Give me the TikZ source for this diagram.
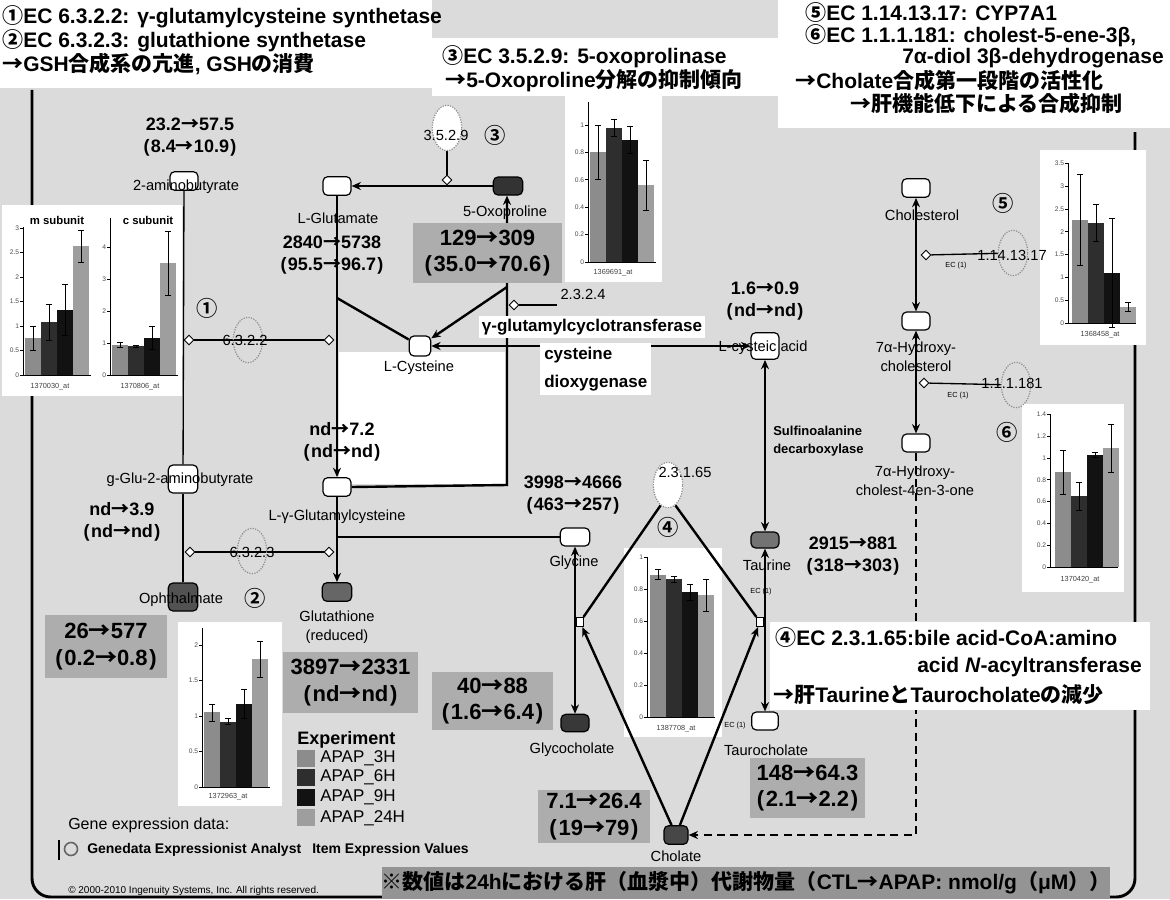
\documentclass[tikz,border=0pt]{standalone}
\usepackage{fontspec}
\setmainfont{Liberation Sans}
\newfontfamily\jp{Noto Sans CJK JP Bold}
\usetikzlibrary{arrows.meta,shapes.geometric}
\pgfdeclarelayer{back}
\pgfdeclarelayer{mid}
\pgfsetlayers{back,mid,main}
\definecolor{bgc}{gray}{0.86}
\definecolor{boxc}{gray}{0.68}
\definecolor{cA}{gray}{0.55}
\definecolor{cB}{gray}{0.18}
\definecolor{cC}{gray}{0.07}
\definecolor{cD}{gray}{0.62}
\newcommand{\ar}{{\jp →}}
\newcommand{\lp}{(\hspace{0.08em}}
\newcommand{\rp}{\hspace{0.08em})}
\tikzset{
 wn/.style={draw, line width=0.9pt, rounded corners=3.5pt, fill=white, minimum width=21pt, minimum height=14pt, inner sep=0pt},
 dn/.style={wn, fill=#1},
 lbl/.style={font=\fontsize{11}{14}\selectfont, inner sep=0pt, align=center},
 num/.style={font=\bfseries\fontsize{13.5}{16}\selectfont, inner sep=0pt, align=center},
 vb/.style={fill=boxc, inner sep=0pt, align=center, font=\bfseries\fontsize{16.5}{20}\selectfont},
 hdr/.style={font=\bfseries\fontsize{15.75}{17}\selectfont, inner sep=0pt, anchor=west},
 cn/.style={font=\jp\fontsize{16}{16}\selectfont, inner sep=0pt},
 enz/.style={ellipse, draw=black!45, densely dotted, line width=0.9pt, minimum width=22pt, minimum height=34pt, inner sep=0pt},
 dia/.style={diamond, draw, fill=white, line width=0.7pt, minimum size=7.5pt, inner sep=0pt},
 thk/.style={line width=1.8pt},
 thn/.style={line width=1pt},
 ah/.style={-{Stealth[length=7pt,width=6pt]}},
 bh/.style={{Stealth[length=7pt,width=6pt]}-{Stealth[length=7pt,width=6pt]}},
 tl/.style={font=\fontsize{5}{5}\selectfont, inner sep=0.5pt, text=black!70},
 ctitle/.style={font=\bfseries\fontsize{8.5}{9}\selectfont, inner sep=0pt},
 xl/.style={font=\fontsize{5.5}{6}\selectfont, inner sep=0pt, text=black!75},
 ec/.style={font=\fontsize{5.5}{6}\selectfont, inner sep=0pt},
 rxn/.style={draw, fill=white, line width=0.6pt, minimum width=5pt, minimum height=7pt, inner sep=0pt},
}
\newcommand{\caxis}[5]{%
 \draw[line width=0.7pt] (#1,#3) -- (#1,#2) -- ({#1+68},#2);
 \foreach \tv in {#5} {
   \draw[line width=0.5pt] ({#1-3},{#2-#4*\tv}) -- (#1,{#2-#4*\tv});
   \node[tl, anchor=east] at ({#1-3},{#2-#4*\tv}) {\tv};
 }}
\newcommand{\cbar}[6]{%
 \fill[#6] (#1,#2) rectangle ({#1+16},{#2-#3*#4});
 \draw[line width=0.6pt] ({#1+8},{#2-#3*(#4-#5)}) -- ({#1+8},{#2-#3*(#4+#5)})
   ({#1+5},{#2-#3*(#4+#5)}) -- ({#1+11},{#2-#3*(#4+#5)})
   ({#1+5},{#2-#3*(#4-#5)}) -- ({#1+11},{#2-#3*(#4-#5)});}
\begin{document}
\begin{tikzpicture}[x=0.75pt,y=-0.75pt]
\useasboundingbox (0,0) rectangle (1170,899);
\begin{pgfonlayer}{back}
\fill[bgc] (0,0) rectangle (1170,899);
\fill[white] (0,0) rectangle (432,88);
\fill[white] (432,38) rectangle (778,96);
\fill[white] (778,0) rectangle (1170,128);
\fill[white] (339,352) rectangle (505,484);
\draw[line width=2.2pt, rounded corners=14pt] (32,90) -- (32,897) -- (1135,897) -- (1135,132);
% chart backgrounds
\fill[white] (2,205) rectangle (96,396);
\fill[white] (96,205) rectangle (182,396);
\fill[white] (565,96) rectangle (662,282);
\fill[white] (178,622) rectangle (282,806);
\fill[white] (624,548) rectangle (722,737);
\fill[white] (1040,150) rectangle (1146,345);
\fill[white] (1022,404) rectangle (1124,592);
% chart m subunit
\caxis{23}{375}{227}{49}{0,0.5,1,1.5,2,2.5,3}
\cbar{25}{375}{49}{0.75}{0.25}{cA}
\cbar{41}{375}{49}{1.08}{0.37}{cB}
\cbar{57}{375}{49}{1.33}{0.52}{cC}
\cbar{73}{375}{49}{2.63}{0.33}{cD}
\node[ctitle] at (57,220) {m subunit};
\node[xl] at (50,387) {1370030\_at};
% chart c subunit
\caxis{110}{375}{218}{32}{0,1,2,3,4}
\cbar{112}{375}{32}{0.94}{0.08}{cA}
\cbar{128}{375}{32}{0.90}{0.04}{cB}
\cbar{144}{375}{32}{1.16}{0.35}{cC}
\cbar{160}{375}{32}{3.50}{1.00}{cD}
\node[ctitle] at (148,220) {c subunit};
\node[xl] at (140,387) {1370806\_at};
% chart 3
\caxis{588}{262}{102}{137}{0,0.2,0.4,0.6,0.8,1}
\cbar{590}{262}{137}{0.80}{0.20}{cA}
\cbar{606}{262}{137}{0.98}{0.06}{cB}
\cbar{622}{262}{137}{0.89}{0.10}{cC}
\cbar{638}{262}{137}{0.56}{0.18}{cD}
\node[xl] at (613,273) {1369691\_at};
% chart 2
\caxis{202}{787}{628}{71}{0,0.5,1,1.5,2}
\cbar{204}{787}{71}{1.05}{0.12}{cA}
\cbar{220}{787}{71}{0.92}{0.04}{cB}
\cbar{236}{787}{71}{1.17}{0.20}{cC}
\cbar{252}{787}{71}{1.80}{0.25}{cD}
\node[xl] at (228,797) {1372963\_at};
% chart 4
\caxis{647}{717}{557}{160}{0,0.2,0.4,0.6,0.8,1}
\cbar{650}{717}{160}{0.89}{0.03}{cA}
\cbar{666}{717}{160}{0.86}{0.02}{cB}
\cbar{682}{717}{160}{0.78}{0.05}{cC}
\cbar{698}{717}{160}{0.76}{0.10}{cD}
\node[xl] at (676,729) {1387708\_at};
% chart 5
\caxis{1068}{323}{163}{45.6}{0,0.5,1,1.5,2,2.5,3,3.5}
\cbar{1072}{323}{45.6}{2.26}{1.00}{cA}
\cbar{1088}{323}{45.6}{2.20}{0.40}{cB}
\cbar{1104}{323}{45.6}{1.10}{1.20}{cC}
\cbar{1120}{323}{45.6}{0.35}{0.10}{cD}
\node[xl] at (1100,335) {1368458\_at};
% chart 6
\caxis{1050}{567}{414}{109}{0,0.2,0.4,0.6,0.8,1,1.2,1.4}
\cbar{1055}{567}{109}{0.87}{0.20}{cA}
\cbar{1071}{567}{109}{0.65}{0.13}{cB}
\cbar{1087}{567}{109}{1.03}{0.02}{cC}
\cbar{1103}{567}{109}{1.09}{0.22}{cD}
\node[xl] at (1080,580) {1370420\_at};
\end{pgfonlayer}

% ---------- nodes
\node[wn] (aminob) at (184,181) {};
\node[wn] (glu) at (337,186) {};
\node[dn=black!80, minimum width=22pt, minimum height=13.5pt] (oxo) at (508,186) {};
\node[wn, minimum width=16pt, minimum height=15pt] (cys) at (420,346) {};
\node[wn, minimum height=20pt] (cysteic) at (765,346) {};
\node[wn, minimum width=22pt, minimum height=21pt] (ggab) at (183,479) {};
\node[wn] (lgc) at (337,487) {};
\node[dn=black!68, minimum width=22pt, minimum height=21pt] (oph) at (183,597) {};
\node[dn=black!60, minimum width=22pt] (gsh) at (337,592) {};
\node[wn, minimum width=22pt, minimum height=13.5pt] (gly) at (575,537) {};
\node[dn=black!55, minimum width=21pt, minimum height=12pt] (tau) at (765,540) {};
\node[dn=black!78, minimum width=21pt, minimum height=13pt] (glyc) at (575,723) {};
\node[wn, minimum width=20pt, minimum height=13.5pt] (tauc) at (765,721) {};
\node[dn=black!72, minimum width=18pt, minimum height=14pt] (chol) at (676,835) {};
\node[wn] (chs) at (916,188) {};
\node[wn, minimum height=13.5pt] (hc) at (916,321) {};
\node[wn, minimum height=13.5pt] (hco) at (916,443) {};
\node[rxn] (rA) at (580,622) {};
\node[rxn] (rB) at (760,622) {};
% enzymes
\node[enz, fill=white] (e359) at (447,128) {};
\node[lbl] at (446,135) {3.5.2.9};
\node[dia] (d359) at (447,180) {};
\node[enz] (e6322) at (248,340) {};
\node[dia] (d1a) at (189,340) {};
\node[dia] (d1b) at (329,340) {};
\node[enz] (e6323) at (252,551) {};
\node[dia] (d2a) at (190,552) {};
\node[dia] (d2b) at (329,552) {};
\node[dia] (d3) at (514,305) {};
\coordinate (d3e) at (557,305);
\node[lbl] (e2324) at (583,294) {2.3.2.4};
\node[enz, fill=white] (e23165) at (668,485) {};
\node[dia] (d5) at (926,255) {};
\node[enz] (e5) at (1013,253) {};
\node[dia] (d6) at (924,383) {};
\node[enz] (e6) at (1016,385) {};
\coordinate (jg) at (337,298);
\coordinate (k1) at (507,485);
\coordinate (k2) at (507,287);
\coordinate (jg2) at (337,537);
\coordinate (dk) at (916,835);

% ---------- connectors
\begin{pgfonlayer}{mid}
\draw[thn] (aminob) -- (ggab);
\draw[thn] (ggab) -- (oph);
\draw[thn] (d1a) -- (d1b);
\draw[thn] (d2a) -- (d2b);
\draw[thk, ah] (oxo) -- (glu);
\draw[thn] (e359) -- (d359);
\draw[thk, ah] (glu) -- (lgc);
\draw[thk] (jg) -- (cys);
\draw[thk, ah] (lgc.east) -- (k1) -- (oxo.south -| k1);
\draw[thk, ah] (k2) -- (cys);
\draw[thn] (d3) -- (d3e);
\draw[thk, bh] (cysteic) -- (cys);
\draw[thk, bh] (cysteic) -- (tau);
\draw[thk, ah] (lgc) -- (gsh);
\draw[thk] (jg2) -- (gly);
\draw[thk, bh] (gly) -- (glyc);
\draw[thk, bh] (tau) -- (tauc);
\draw[thk] (e23165.250) -- (rA);
\draw[thk] (e23165.290) -- (rB);
\draw[thk, ah] (chol) -- (rA);
\draw[thk, ah] (chol) -- (rB);
\draw[thk, dash pattern=on 6pt off 4pt, ah] (hco) -- (dk) -- (chol);
\draw[thk, bh] (chs) -- (hc);
\draw[thk, bh] (hc) -- (hco);
\draw[thn] (d5) -- (e5);
\draw[thn] (d6) -- (e6);
\end{pgfonlayer}

% enzyme labels
\node[lbl] at (245,340) {6.3.2.2};
\node[lbl] at (252,552) {6.3.2.3};
\node[lbl] at (685,472) {2.3.1.65};
\node[lbl] at (1012,255) {1.14.13.17};
\node[lbl] at (1012,383) {1.1.1.181};
\node[ec] at (956,266) {EC (1)};
\node[ec] at (958,396) {EC (1)};
\node[ec] at (761,592) {EC (1)};
\node[ec] at (735,726) {EC (1)};

% metabolite labels
\node[lbl] at (186,187) {2-aminobutyrate};
\node[lbl] at (338,218) {L-Glutamate};
\node[lbl] at (505,213) {5-Oxoproline};
\node[lbl] at (419,368) {L-Cysteine};
\node[lbl] at (763,348) {L-cysteic acid};
\node[lbl] at (180,480) {g-Glu-2-aminobutyrate};
\node[lbl] at (337,517) {L-γ-Glutamylcysteine};
\node[lbl] at (181,600) {Ophthalmate};
\node[lbl] at (337,627) {Glutathione\\(reduced)};
\node[lbl] at (574,563) {Glycine};
\node[lbl] at (767,565) {Taurine};
\node[lbl] at (572,750) {Glycocholate};
\node[lbl] at (766,750) {Taurocholate};
\node[lbl] at (676,856) {Cholate};
\node[lbl] at (922,215) {Cholesterol};
\node[lbl] at (916,357) {7α-Hydroxy-\\cholesterol};
\node[lbl] at (915,481) {7α-Hydroxy-\\cholest-4en-3-one};

% number labels
\node[num] at (190,137) {23.2\ar57.5\\\lp8.4\ar10.9\rp};
\node[num] at (332,255) {2840\ar5738\\\lp95.5\ar96.7\rp};
\node[num] at (342,442) {nd\ar7.2\\\lp nd\ar nd\rp};
\node[num] at (122,522) {nd\ar3.9\\\lp nd\ar nd\rp};
\node[num] at (765,301) {1.6\ar0.9\\\lp nd\ar nd\rp};
\node[num] at (573,495) {3998\ar4666\\\lp463\ar257\rp};
\node[num] at (853,556) {2915\ar881\\\lp318\ar303\rp};

% value boxes
\node[vb, minimum width=111.75pt, minimum height=45pt] at (487.5,253) {129\ar309\\\lp35.0\ar70.6\rp};
\node[vb, minimum width=91.5pt, minimum height=47pt] at (106,646.5) {26\ar577\\\lp0.2\ar0.8\rp};
\node[vb, minimum width=101pt, minimum height=46pt] at (350.5,682.5) {3897\ar2331\\\lp nd\ar nd\rp};
\node[vb, minimum width=91pt, minimum height=43.5pt] at (492.5,701) {40\ar88\\\lp1.6\ar6.4\rp};
\node[vb, minimum width=84pt, minimum height=40pt] at (594,816.5) {7.1\ar26.4\\\lp19\ar79\rp};
\node[vb, minimum width=86pt, minimum height=45pt] at (807.5,788) {148\ar64.3\\\lp2.1\ar2.2\rp};

% circled numbers
\node[cn] at (207,308) {①};
\node[cn] at (255,598) {②};
\node[cn] at (495,135) {③};
\node[cn] at (668,527) {④};
\node[cn] at (1003,203) {⑤};
\node[cn] at (1007,432) {⑥};

% enzyme names
\node[font=\bfseries\fontsize{12.75}{14}\selectfont, fill=white, inner sep=2pt] at (592,327) {γ-glutamylcyclotransferase};
\node[font=\bfseries\fontsize{12.75}{21}\selectfont, fill=white, align=left, anchor=north west, inner sep=3pt] at (540,343) {cysteine\\dioxygenase};
\node[font=\bfseries\fontsize{9.75}{13.5}\selectfont, align=left, anchor=west, inner sep=0pt] at (773,441) {Sulfinoalanine\\decarboxylase};

% headers
\node[hdr] at (2,17) {{\jp ①}EC 6.3.2.2: γ-glutamylcysteine synthetase};
\node[hdr] at (2,41) {{\jp ②}EC 6.3.2.3: glutathione synthetase};
\node[hdr] at (2,64) {{\jp →}GSH{\jp 合成系の亢進}, GSH{\jp の消費}};
\node[hdr] at (442,57) {{\jp ③}EC 3.5.2.9: 5-oxoprolinase};
\node[hdr] at (445,81) {{\jp →}5-Oxoproline{\jp 分解の抑制傾向}};
\node[hdr] at (805,13) {{\jp ⑤}EC 1.14.13.17: CYP7A1};
\node[hdr] at (805,36) {{\jp ⑥}EC 1.1.1.181: cholest-5-ene-3β,};
\node[hdr, anchor=east] at (1164,58) {7α-diol 3β-dehydrogenase};
\node[hdr] at (795,80) {{\jp →}Cholate{\jp 合成第一段階の活性化}};
\node[hdr] at (850,103) {{\jp →肝機能低下による合成抑制}};

% EC 4 block
\node[fill=white, inner sep=0pt, minimum width=285pt, minimum height=66pt] (blk4) at (960,666) {};
\node[hdr] at (775,638) {{\jp ④}EC 2.3.1.65:bile acid-CoA:amino};
\node[hdr, anchor=east] at (1142,667) {acid \textit{N}-acyltransferase};
\node[hdr] at (773,695) {{\jp →肝}Taurine{\jp と}Taurocholate{\jp の減少}};

% legend
\node[font=\bfseries\fontsize{13.5}{15}\selectfont, anchor=west, inner sep=0pt] at (297,740) {Experiment};
\fill[cA] (297,750) rectangle (315,767);
\fill[cB] (297,769) rectangle (315,786);
\fill[cC] (297,789) rectangle (315,806);
\fill[cD] (297,809) rectangle (315,826);
\node[font=\fontsize{12.75}{14}\selectfont, anchor=west, inner sep=0pt] at (320,758) {APAP\_3H};
\node[font=\fontsize{12.75}{14}\selectfont, anchor=west, inner sep=0pt] at (320,777) {APAP\_6H};
\node[font=\fontsize{12.75}{14}\selectfont, anchor=west, inner sep=0pt] at (320,797) {APAP\_9H};
\node[font=\fontsize{12.75}{14}\selectfont, anchor=west, inner sep=0pt] at (320,818) {APAP\_24H};

\node[font=\fontsize{12}{13}\selectfont, anchor=west, inner sep=0pt] at (68,825) {Gene expression data:};
\draw[line width=1.5pt] (59,840) -- (59,860);
\draw[black!60, line width=1.2pt] (71,849) circle (6.5);
\node[font=\bfseries\fontsize{10.5}{12}\selectfont, anchor=west, inner sep=0pt] at (87,850) {Genedata Expressionist Analyst};
\node[font=\bfseries\fontsize{10.5}{12}\selectfont, anchor=west, inner sep=0pt] at (312,850) {Item Expression Values};
\node[font=\fontsize{7.5}{8}\selectfont, anchor=west, inner sep=0pt] at (68,891) {© 2000-2010 Ingenuity Systems, Inc. All rights reserved.};

\node[fill=black!42, minimum width=546pt, minimum height=24pt, inner sep=0pt, font=\bfseries\fontsize{15.75}{16}\selectfont] at (746,883) {{\jp ※数値は}24h{\jp における肝（血漿中）代謝物量（}CTL{\jp →}APAP: nmol/g{\jp （}μM{\jp ））}};
\end{tikzpicture}
\end{document}
